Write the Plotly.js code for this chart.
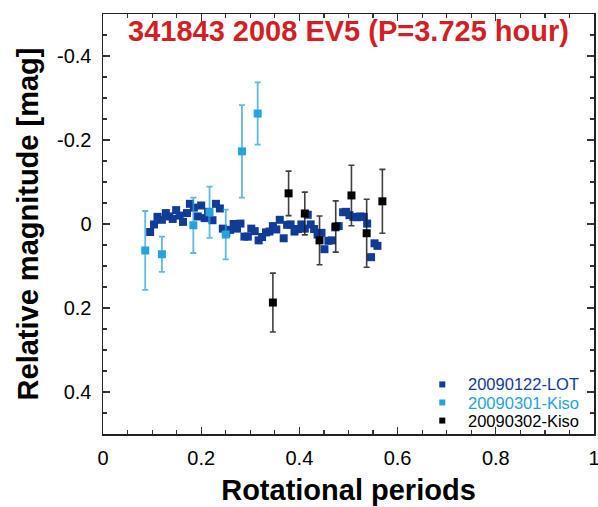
<!DOCTYPE html>
<html>
<head>
<meta charset="utf-8">
<script src="https://cdn.plot.ly/plotly-3.0.1.min.js"></script>
<style>html,body{margin:0;padding:0;background:#fff;}#chart{width:598px;height:507px;}</style>
</head>
<body>
<div id="chart"></div>
<script>
// 20090122-LOT
const lotPhase = [0.096,0.104,0.111,0.120,0.128,0.135,0.142,0.149,0.156,0.163,0.171,0.177,0.185,0.193,0.200,0.207,0.214,0.223,0.230,0.238,0.244,0.251,0.259,0.266,0.273,0.280,0.288,0.295,0.302,0.309,0.317,0.324,0.332,0.339,0.346,0.353,0.360,0.368,0.375,0.382,0.390,0.397,0.404,0.411,0.417,0.423,0.430,0.437,0.445,0.451,0.459,0.466,0.473,0.480,0.489,0.495,0.502,0.510,0.517,0.524,0.531,0.538,0.546,0.553,0.559];
const lotMag = [0.019,0.001,-0.017,-0.010,-0.026,-0.018,-0.012,-0.033,-0.020,-0.005,-0.026,-0.048,-0.039,-0.018,-0.044,-0.014,-0.029,-0.009,-0.048,-0.037,0.011,0.022,0.014,0.000,0.011,-0.001,0.030,0.030,0.011,0.017,0.039,0.031,0.020,0.018,0.005,0.013,-0.010,0.034,0.002,0.001,0.018,0.012,0.001,0.011,-0.022,0.001,0.012,0.025,0.021,0.060,0.040,0.039,0.008,0.005,-0.028,-0.029,-0.021,-0.017,-0.016,-0.018,-0.017,-0.001,0.079,0.046,0.052];

// 20090301-Kiso
const kiso1Phase = [0.086,0.120,0.184,0.217,0.250,0.283,0.315];
const kiso1Mag = [0.063,0.072,0.003,-0.028,0.025,-0.173,-0.263];
const kiso1Err = [0.094,0.042,0.066,0.061,0.059,0.110,0.074];

// 20090302-Kiso
const kiso2Phase = [0.346,0.378,0.411,0.441,0.474,0.506,0.537,0.569];
const kiso2Mag = [0.187,-0.073,-0.025,0.039,0.006,-0.068,0.022,-0.054];
const kiso2Err = [0.070,0.053,0.051,0.058,0.061,0.072,0.081,0.076];

const seriesNames = ['20090122-LOT','20090301-Kiso','20090302-Kiso'];
const seriesColors = ['#103B97','#25A3DB','#000000'];

const yTickVals = [-0.4,-0.2,0,0.2,0.4];
const yTickText = ['-0.4','-0.2','0','0.2','0.4'];
const xTickVals = [0,0.2,0.4,0.6,0.8,1];
const xTickText = ['0','0.2','0.4','0.6','0.8','1'];

const titleText = '341843 2008 EV5 (P=3.725 hour)';
const xTitle = 'Rotational periods';
const yTitle = 'Relative magnitude [mag]';

const FONT = 'Liberation Sans, Arial, Helvetica, sans-serif';

const traces = [
  {
    type:'scatter', mode:'markers', x: lotPhase, y: lotMag, name: seriesNames[0],
    marker:{symbol:'square', size:8, color: seriesColors[0]}
  },
  {
    type:'scatter', mode:'markers', x: kiso1Phase, y: kiso1Mag, name: seriesNames[1],
    marker:{symbol:'square', size:8, color: seriesColors[1]},
    error_y:{type:'data', array: kiso1Err, visible:true, color:'rgba(37,163,219,0.75)', thickness:1.8, width:3}
  },
  {
    type:'scatter', mode:'markers', x: kiso2Phase, y: kiso2Mag, name: seriesNames[2],
    marker:{symbol:'square', size:8, color: seriesColors[2]},
    error_y:{type:'data', array: kiso2Err, visible:true, color:'rgba(30,30,30,0.85)', thickness:1.6, width:3}
  }
];

// Legend drawn as annotations + small squares (compact rows like the original)
const legRowsY = [0.118, 0.075, 0.032];
const annotations = [];
const shapes = [];
seriesNames.forEach(function(nm, i){
  annotations.push({
    xref:'paper', yref:'paper', x:0.742, y:legRowsY[i], xanchor:'left', yanchor:'middle',
    text:nm, showarrow:false, height:16, borderpad:0, valign:'middle',
    font:{family:FONT, size:16.5, color:seriesColors[i]}
  });
  shapes.push({
    type:'rect', xref:'paper', yref:'paper', xsizemode:'pixel', ysizemode:'pixel',
    xanchor:0.691, yanchor:legRowsY[i], x0:-3, x1:3, y0:-3, y1:3,
    fillcolor:seriesColors[i], line:{width:0}
  });
});

const axisCommon = {
  showline:true, linecolor:'#222', linewidth:1.5, mirror:'allticks',
  ticks:'inside', ticklen:7, tickwidth:1.3, tickcolor:'#333',
  showgrid:false, zeroline:false, ticklabeloverflow:'allow',
  tickfont:{family:FONT, size:20, color:'#000'}
};

const layout = {
  width:598, height:507,
  margin:{l:103, r:4, t:14, b:73},
  paper_bgcolor:'#fff', plot_bgcolor:'#fff',
  showlegend:false,
  annotations: annotations,
  shapes: shapes,
  title:{text:'<b>'+titleText+'</b>', font:{family:FONT, size:29, color:'#D21F26'},
         xref:'paper', yref:'paper', x:0.5, y:0.96, xanchor:'center', yanchor:'middle'},
  xaxis: Object.assign({}, axisCommon, {
    range:[0,1], tickmode:'array', tickvals:xTickVals, ticktext:xTickText,
    ticklabelstandoff:5,
    minor:{tickmode:'linear', tick0:0, dtick:0.05, ticks:'inside', ticklen:4, tickwidth:1.2, tickcolor:'#333'},
    title:{text:'<b>'+xTitle+'</b>', font:{family:FONT, size:29, color:'#000'}, standoff:12}
  }),
  yaxis: Object.assign({}, axisCommon, {
    range:[0.5,-0.5], tickmode:'array', tickvals:yTickVals, ticktext:yTickText,
    ticklabelstandoff:6,
    minor:{tickmode:'linear', tick0:0, dtick:0.05, ticks:'inside', ticklen:4, tickwidth:1.2, tickcolor:'#333'},
    title:{text:'<b>'+yTitle+'</b>', font:{family:FONT, size:29, color:'#000'}, standoff:10}
  })
};

Plotly.newPlot('chart', traces, layout, {displayModeBar:false, staticPlot:true});
</script>
</body>
</html>
